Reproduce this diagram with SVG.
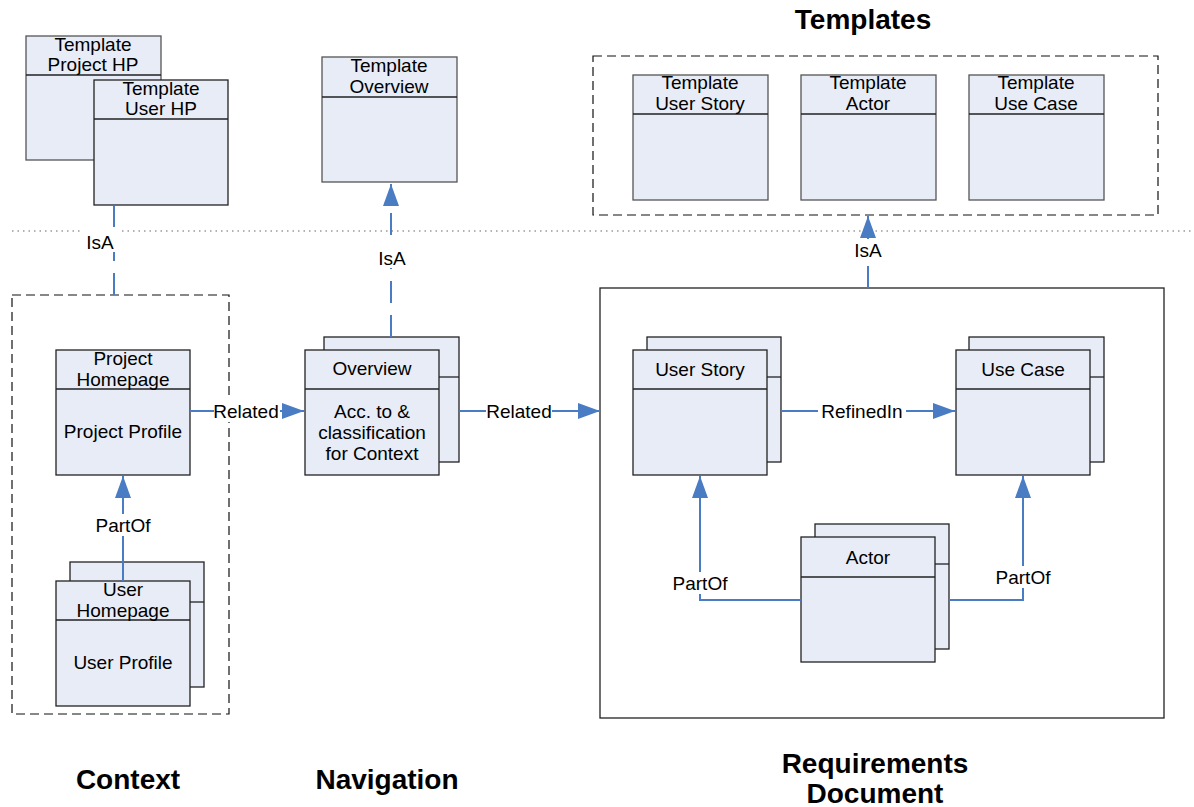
<svg xmlns="http://www.w3.org/2000/svg" width="1194" height="807" viewBox="0 0 1194 807">
<style>
.box{fill:#E7ECF6;stroke:#222;stroke-width:1.3}
.tbox{fill:#E7ECF6;stroke:#555;stroke-width:1.3}
.div{stroke:#222;stroke-width:1.3}
.t{font-family:"Liberation Sans",Arial,sans-serif;font-size:19px;fill:#000;text-anchor:middle}
.title{font-family:"Liberation Sans",Arial,sans-serif;font-size:28px;font-weight:bold;fill:#000;text-anchor:middle}
.con{stroke:#4A7CC4;stroke-width:2;fill:none}
.dash{stroke-dasharray:22,12}
.frame{fill:none;stroke:#111;stroke-width:1.2;stroke-dasharray:9,5}
.lbl{fill:#fff}
</style>
<defs>
<marker id="ahb" markerWidth="22" markerHeight="16" viewBox="0 0 22 16" refX="22" refY="8" orient="auto" markerUnits="userSpaceOnUse">
<path d="M0,0 L22,8 L0,16 z" fill="#4A7CC4"/>
</marker>
</defs>
<rect width="1194" height="807" fill="#fff"/>

<line x1="12" y1="231" x2="1194" y2="231" stroke="#666" stroke-width="1" stroke-dasharray="1.5,4"/>

<g id="frames">
<rect x="12" y="295" width="217" height="419" class="frame"/>
<rect x="593" y="56" width="565" height="159" class="frame"/>
<rect x="600" y="288" width="564" height="430" fill="none" stroke="#222" stroke-width="1.3"/>
</g>

<g id="titles">
<text x="863" y="29" class="title">Templates</text>
<text x="128" y="789" class="title">Context</text>
<text x="387" y="789" class="title">Navigation</text>
<text x="875" y="773" class="title">Requirements</text>
<text x="875" y="803" class="title">Document</text>
</g>

<g id="template-project-hp">
<rect x="26" y="36" width="135" height="124" class="tbox"/>
<line x1="26" y1="75" x2="161" y2="75" class="div"/>
<text x="93" y="51" class="t">Template</text>
<text x="93" y="71" class="t">Project HP</text>
</g>
<g id="template-user-hp">
<rect x="94" y="80" width="134" height="125" class="box"/>
<line x1="94" y1="119" x2="228" y2="119" class="div"/>
<text x="161" y="95" class="t">Template</text>
<text x="161" y="115" class="t">User HP</text>
</g>
<g id="template-overview">
<rect x="322" y="57" width="135" height="125" class="tbox"/>
<line x1="322" y1="97" x2="457" y2="97" class="div"/>
<text x="389" y="72" class="t">Template</text>
<text x="389" y="93" class="t">Overview</text>
</g>
<g id="template-user-story">
<rect x="633" y="75" width="135" height="125" class="tbox"/>
<line x1="633" y1="114" x2="768" y2="114" class="div"/>
<text x="700" y="89" class="t">Template</text>
<text x="700" y="110" class="t">User Story</text>
</g>
<g id="template-actor">
<rect x="801" y="75" width="135" height="125" class="tbox"/>
<line x1="801" y1="114" x2="936" y2="114" class="div"/>
<text x="868" y="89" class="t">Template</text>
<text x="868" y="110" class="t">Actor</text>
</g>
<g id="template-use-case">
<rect x="969" y="75" width="135" height="125" class="tbox"/>
<line x1="969" y1="114" x2="1104" y2="114" class="div"/>
<text x="1036" y="89" class="t">Template</text>
<text x="1036" y="110" class="t">Use Case</text>
</g>

<g id="project-homepage">
<rect x="56" y="350" width="134" height="125" class="box"/>
<line x1="56" y1="389" x2="190" y2="389" class="div"/>
<text x="123" y="365" class="t">Project</text>
<text x="123" y="386" class="t">Homepage</text>
<text x="123" y="438" class="t">Project Profile</text>
</g>
<g id="user-homepage">
<rect x="70" y="562" width="134" height="125" class="box"/>
<line x1="190" y1="602" x2="204" y2="602" class="div"/>
<rect x="56" y="581" width="134" height="125" class="box"/>
<line x1="56" y1="620" x2="190" y2="620" class="div"/>
<text x="123" y="596" class="t">User</text>
<text x="123" y="617" class="t">Homepage</text>
<text x="123" y="669" class="t">User Profile</text>
</g>
<g id="overview">
<rect x="324" y="337" width="135" height="125" class="box"/>
<line x1="439" y1="377" x2="459" y2="377" class="div"/>
<rect x="305" y="350" width="134" height="125" class="box"/>
<line x1="305" y1="389" x2="439" y2="389" class="div"/>
<text x="372" y="375" class="t">Overview</text>
<text x="372" y="418" class="t">Acc. to &amp;</text>
<text x="372" y="439" class="t">classification</text>
<text x="372" y="460" class="t">for Context</text>
</g>
<g id="user-story">
<rect x="647" y="337" width="134" height="125" class="box"/>
<line x1="767" y1="377" x2="781" y2="377" class="div"/>
<rect x="633" y="350" width="134" height="125" class="box"/>
<line x1="633" y1="389" x2="767" y2="389" class="div"/>
<text x="700" y="376" class="t">User Story</text>
</g>
<g id="use-case">
<rect x="969" y="337" width="135" height="125" class="box"/>
<line x1="1090" y1="377" x2="1104" y2="377" class="div"/>
<rect x="956" y="350" width="134" height="125" class="box"/>
<line x1="956" y1="389" x2="1090" y2="389" class="div"/>
<text x="1023" y="376" class="t">Use Case</text>
</g>
<g id="actor">
<rect x="815" y="524" width="134" height="125" class="box"/>
<line x1="935" y1="564" x2="949" y2="564" class="div"/>
<rect x="801" y="537" width="134" height="125" class="box"/>
<line x1="801" y1="577" x2="935" y2="577" class="div"/>
<text x="868" y="564" class="t">Actor</text>
</g>

<g id="connectors">
<line x1="114" y1="295" x2="114" y2="206" class="con dash"/>
<line x1="391" y1="337" x2="391" y2="184" class="con dash" marker-end="url(#ahb)"/>
<line x1="868" y1="288" x2="868" y2="216" class="con dash" marker-end="url(#ahb)"/>
<line x1="123" y1="581" x2="123" y2="476" class="con" marker-end="url(#ahb)"/>
<line x1="190" y1="411" x2="304" y2="411" class="con" marker-end="url(#ahb)"/>
<line x1="459" y1="411" x2="600" y2="411" class="con" marker-end="url(#ahb)"/>
<line x1="781" y1="411" x2="955" y2="411" class="con" marker-end="url(#ahb)"/>
<polyline points="801,600 700,600 700,476" class="con" marker-end="url(#ahb)"/>
<polyline points="949,600 1023,600 1023,476" class="con" marker-end="url(#ahb)"/>
<rect x="80" y="230" width="40" height="22" class="lbl"/>
<text x="100" y="249" class="t">IsA</text>
<rect x="372" y="246" width="40" height="22" class="lbl"/>
<text x="392" y="265" class="t">IsA</text>
<rect x="848" y="239" width="40" height="22" class="lbl"/>
<text x="868" y="257" class="t">IsA</text>
<rect x="94" y="514" width="58" height="22" class="lbl"/>
<text x="123" y="532" class="t">PartOf</text>
<rect x="214" y="400" width="66" height="22" class="lbl"/>
<text x="246" y="418" class="t">Related</text>
<rect x="486" y="400" width="66" height="22" class="lbl"/>
<text x="519" y="418" class="t">Related</text>
<rect x="818" y="400" width="88" height="22" class="lbl"/>
<text x="862" y="418" class="t">RefinedIn</text>
<rect x="670" y="572" width="60" height="22" class="lbl"/>
<text x="700" y="590" class="t">PartOf</text>
<rect x="993" y="566" width="60" height="22" class="lbl"/>
<text x="1023" y="584" class="t">PartOf</text>
</g>
</svg>
